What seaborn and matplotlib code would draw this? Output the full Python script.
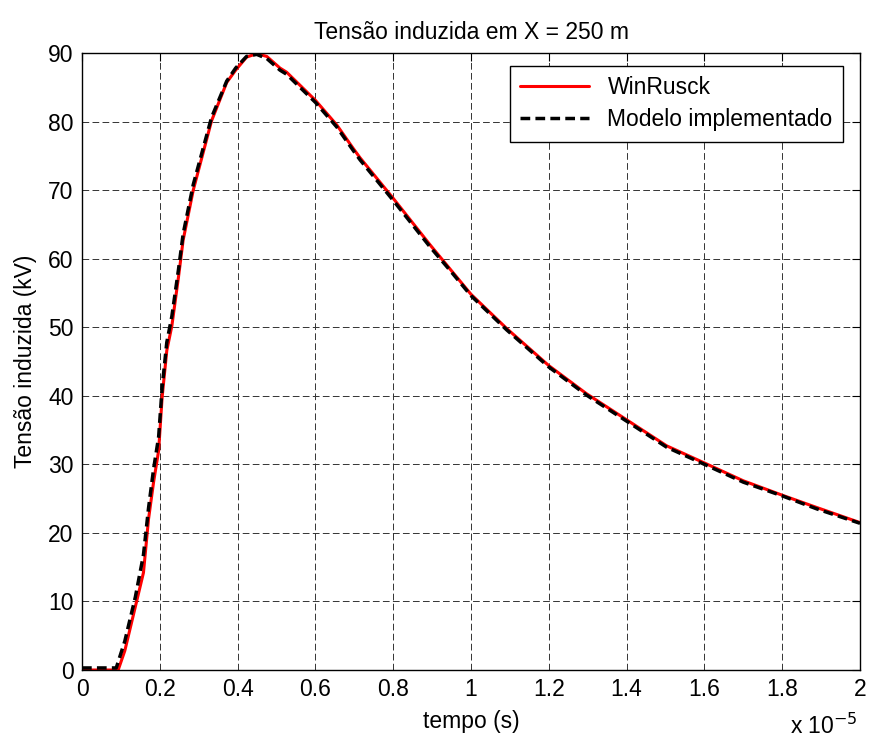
import numpy as np
import pandas as pd
import seaborn as sns
import matplotlib
matplotlib.use("Agg")
import matplotlib.pyplot as plt
from matplotlib.ticker import FuncFormatter, MultipleLocator

# time in units of 1e-5 s, voltage in kV
t_winrusck = [0, 0.05, 0.093, 0.11, 0.137, 0.158, 0.171, 0.184, 0.197, 0.206, 0.218,
              0.231, 0.248, 0.26, 0.286, 0.333, 0.372, 0.395, 0.423, 0.449, 0.475,
              0.509, 0.526, 0.6, 0.655, 0.697, 0.715, 0.8, 0.895, 0.946, 1.0, 1.092,
              1.2, 1.297, 1.4, 1.503, 1.6, 1.7, 1.8, 1.889, 2.0]
v_winrusck = [0, 0, 0, 2.8, 9.2, 14.2, 22.0, 27.4, 32.0, 39.8, 46.6,
              50.2, 57.3, 62.7, 70.0, 80.1, 85.7, 87.5, 89.4, 89.9, 89.5,
              87.8, 87.2, 83.1, 79.5, 76.1, 74.7, 68.8, 62.0, 58.5, 54.8, 49.8,
              44.4, 40.3, 36.5, 32.7, 30.2, 27.6, 25.5, 23.7, 21.5]

t_modelo = [0, 0.05, 0.088, 0.11, 0.137, 0.158, 0.171, 0.184, 0.197, 0.206, 0.218,
            0.231, 0.248, 0.26, 0.286, 0.333, 0.372, 0.395, 0.423, 0.449, 0.475,
            0.509, 0.526, 0.6, 0.655, 0.697, 0.715, 0.8, 0.895, 0.946, 1.0, 1.092,
            1.2, 1.297, 1.4, 1.503, 1.6, 1.7, 1.8, 1.889, 2.0]
v_modelo = [0.3, 0.3, 0.3, 4.2, 10.6, 16.8, 23.6, 29.3, 34.0, 41.2, 47.8,
            51.6, 58.4, 63.6, 70.8, 80.6, 85.9, 87.8, 89.5, 89.8, 89.2,
            87.5, 86.9, 82.8, 79.2, 75.8, 74.4, 68.5, 61.7, 58.3, 54.6, 49.6,
            44.2, 40.1, 36.3, 32.5, 30.0, 27.4, 25.4, 23.5, 21.4]

series_names = ["WinRusck", "Modelo implementado"]

sns.set_style("white")
plt.rcParams['font.family'] = ['Liberation Sans', 'DejaVu Sans']
plt.rcParams['font.size'] = 16.5
plt.rcParams['text.color'] = 'black'
plt.rcParams['axes.labelcolor'] = 'black'
plt.rcParams['xtick.color'] = 'black'
plt.rcParams['ytick.color'] = 'black'

fig = plt.figure(figsize=(8.71, 7.43), dpi=100)
ax = fig.add_axes([82/871, (743-670)/743, (860-82)/871, (670-53)/743])

df1 = pd.DataFrame({"t": t_winrusck, "v": v_winrusck})
df2 = pd.DataFrame({"t": t_modelo, "v": v_modelo})

sns.lineplot(data=df1, x="t", y="v", ax=ax, color="#ff0000", linewidth=2.2,
             label=series_names[0], sort=False)
sns.lineplot(data=df2, x="t", y="v", ax=ax, color="black", linewidth=2.5,
             linestyle=(0, (2.8, 1.5)), label=series_names[1], sort=False)

ax.set_xlim(0, 2)
ax.set_ylim(0, 90)
ax.xaxis.set_major_locator(MultipleLocator(0.2))
ax.yaxis.set_major_locator(MultipleLocator(10))
ax.xaxis.set_major_formatter(FuncFormatter(lambda v, p: "%g" % round(v, 4)))
ax.yaxis.set_major_formatter(FuncFormatter(lambda v, p: "%g" % round(v, 4)))

ax.grid(True, color="#333333", linestyle=(0, (6.9, 3.4)), linewidth=0.7)
ax.set_axisbelow(True)
for s in ax.spines.values():
    s.set_visible(True)
    s.set_color("black")
    s.set_linewidth(1.0)
ax.tick_params(direction="in", length=6, width=0.8, top=True, right=True,
               labelsize=16.5, colors="black", pad=6)

ax.set_title("Tensão induzida em X = 250 m", fontsize=16.5, pad=10, color="black")
ax.set_xlabel("tempo (s)", fontsize=16.5, labelpad=6, color="black")
ax.set_ylabel("Tensão induzida (kV)", fontsize=16.5, labelpad=8, color="black")

fig.text(858/871, (743-734)/743, r"x 10$^{-5}$", ha="right", va="baseline",
         fontsize=16.5, color="black")

leg = ax.legend(loc="upper right", bbox_to_anchor=((843-82)/778, (670-66)/617),
                borderaxespad=0, frameon=True,
                fancybox=False, edgecolor="black", framealpha=1, fontsize=16.5,
                handlelength=3.0, borderpad=0.45, labelspacing=0.4)
leg.get_frame().set_linewidth(1.0)
for txt in leg.get_texts():
    txt.set_color("black")

fig.savefig("out.png", dpi=100)
